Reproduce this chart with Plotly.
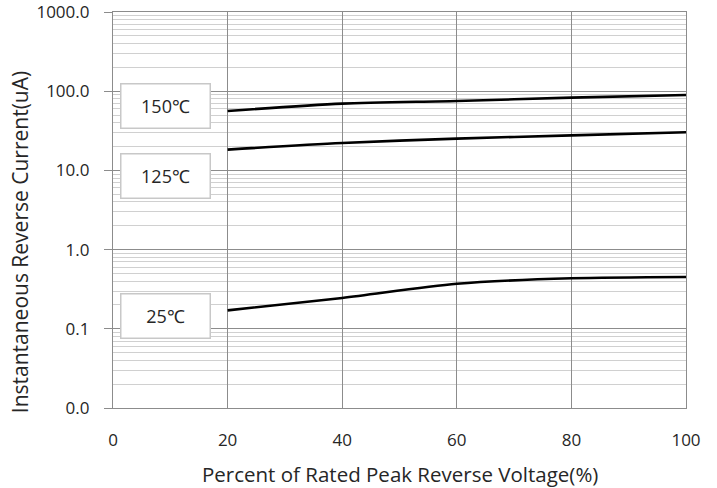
import plotly.graph_objects as go

voltage_pct = [20, 40, 60, 80, 100]
current_150 = [56.2, 69.7, 75.2, 83.0, 89.5]
current_125 = [18.3, 22.2, 25.2, 27.7, 30.3]
current_25 = [0.171, 0.245, 0.37, 0.434, 0.451]

series_labels = ["150℃", "125℃", "25℃"]
label_paper_y = [0.763, 0.585, 0.232]

y_tick_vals = [0.01, 0.1, 1, 10, 100, 1000]
y_tick_text = ["0.0", "0.1", "1.0", "10.0", "100.0", "1000.0"]
x_tick_vals = [0, 20, 40, 60, 80, 100]

FONT = "Open Sans, Liberation Sans, sans-serif"
TXT = "#262626"

fig = go.Figure()
for ys in (current_150, current_125, current_25):
    fig.add_trace(go.Scatter(
        x=voltage_pct, y=ys, mode="lines",
        line=dict(color="black", width=2.6, shape="spline", smoothing=0.8),
        showlegend=False, hoverinfo="skip",
    ))

for lab, py in zip(series_labels, label_paper_y):
    fig.add_annotation(
        xref="paper", yref="paper", x=0.0915, y=py,
        xanchor="center", yanchor="middle",
        text=lab, showarrow=False,
        font=dict(family=FONT, size=18, color=TXT),
        bgcolor="white", bordercolor="#c8c8c8", borderwidth=1.5,
        borderpad=0, width=88, height=43, align="center",
    )

fig.add_annotation(
    xref="paper", yref="paper", x=-0.161, y=0.418,
    xanchor="center", yanchor="middle",
    text="Instantaneous Reverse Current(uA)", textangle=-90,
    showarrow=False, font=dict(family=FONT, size=21, color=TXT),
)
fig.add_annotation(
    xref="paper", yref="paper", x=0.5, y=-0.166,
    xanchor="center", yanchor="middle",
    text="Percent of Rated Peak Reverse Voltage(%)",
    showarrow=False, font=dict(family=FONT, size=20.5, color=TXT),
)

fig.update_layout(
    width=717, height=488,
    margin=dict(l=112.7, r=31, t=11.7, b=80.3),
    paper_bgcolor="white", plot_bgcolor="white",
    font=dict(family=FONT, size=17, color=TXT),
)

fig.update_xaxes(
    range=[0, 100], tickvals=x_tick_vals,
    showgrid=True, gridcolor="#8c8c8c", gridwidth=1,
    showline=True, linecolor="#8c8c8c", linewidth=1.2, mirror=True,
    ticks="", zeroline=False, automargin=False,
    tickfont=dict(family=FONT, size=17, color=TXT),
    ticklabelstandoff=16, ticklabeloverflow="allow",
)

fig.update_yaxes(
    type="log", range=[-2, 3], tickvals=y_tick_vals, ticktext=y_tick_text,
    showgrid=True, gridcolor="#8c8c8c", gridwidth=1,
    showline=True, linecolor="#8c8c8c", linewidth=1.2, mirror=True,
    ticks="outside", ticklen=8, tickcolor="#8c8c8c",
    tickfont=dict(family=FONT, size=17, color=TXT),
    ticklabelstandoff=11, automargin=False, ticklabeloverflow="allow",
    minor=dict(dtick="D1", showgrid=True, gridcolor="#d0d0d0", gridwidth=1, ticks=""),
    zeroline=False,
)

fig.write_html("out.html", config={"displayModeBar": False},
               post_script="document.body.style.margin='0';")
